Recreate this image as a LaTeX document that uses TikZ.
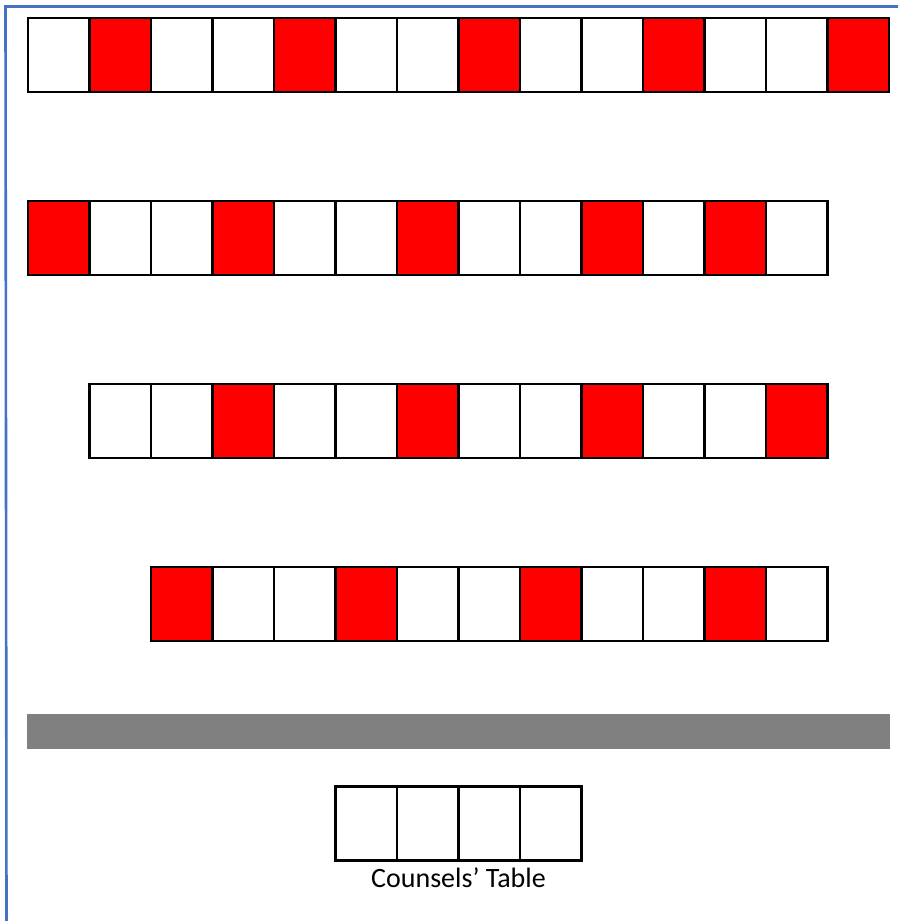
\documentclass[tikz,border=0pt]{standalone}
\usepackage{fontspec}
\setmainfont{Carlito}
\usepackage{tikz}
\usetikzlibrary{positioning,backgrounds}
\definecolor{frameblue}{RGB}{68,114,196}

\begin{document}
\begin{tikzpicture}[
    x=1pt, y=-1pt,
    seat/.style={draw, line width=2.4pt, minimum width=61.5pt, minimum height=74pt,
                inner sep=0pt, outer sep=0pt},
    bar/.style={draw=none, fill=gray, minimum width=863pt, minimum height=35pt,
                inner sep=0pt, outer sep=0pt},
    lbl/.style={font=\fontsize{28}{32}\selectfont, inner sep=0pt}
]
\useasboundingbox (0,0) rectangle (898,921);

% frame lines
\coordinate (ftop) at (5.5,6.5);
\coordinate (fright) at (898,6.5);
\coordinate (fbot) at (6.5,921);
\draw[frameblue, line width=2.6pt] (fright) -- (ftop) -- (fbot);

% row 1
\foreach \c in {0,...,13}
  \node[seat] (a\c) at ({28+61.5*(\c+0.5)},55) {};
% row 2
\foreach \c in {0,...,12}
  \node[seat] (b\c) at ({28+61.5*(\c+0.5)},238) {};
% row 3
\foreach \c in {1,...,12}
  \node[seat] (c\c) at ({28+61.5*(\c+0.5)},421) {};
% row 4
\foreach \c in {2,...,12}
  \node[seat] (d\c) at ({28+61.5*(\c+0.5)},604) {};

% red seats
\begin{scope}[on background layer]
  \foreach \s in {a1,a4,a7,a10,a13, b0,b3,b6,b9,b11, c3,c6,c9,c12, d2,d5,d8,d11}
    \fill[red] (\s.north west) rectangle (\s.south east);
\end{scope}

% bar
\node[bar] (rail) at (458.5,731.5) {};

% counsels' table
\foreach \c in {5,...,8}
  \node[seat] (t\c) at ({28+61.5*(\c+0.5)},823.5) {};
\node[lbl, anchor=base] (tbllbl) at (458.5,887) {Counsels’ Table};

\end{tikzpicture}
\end{document}
